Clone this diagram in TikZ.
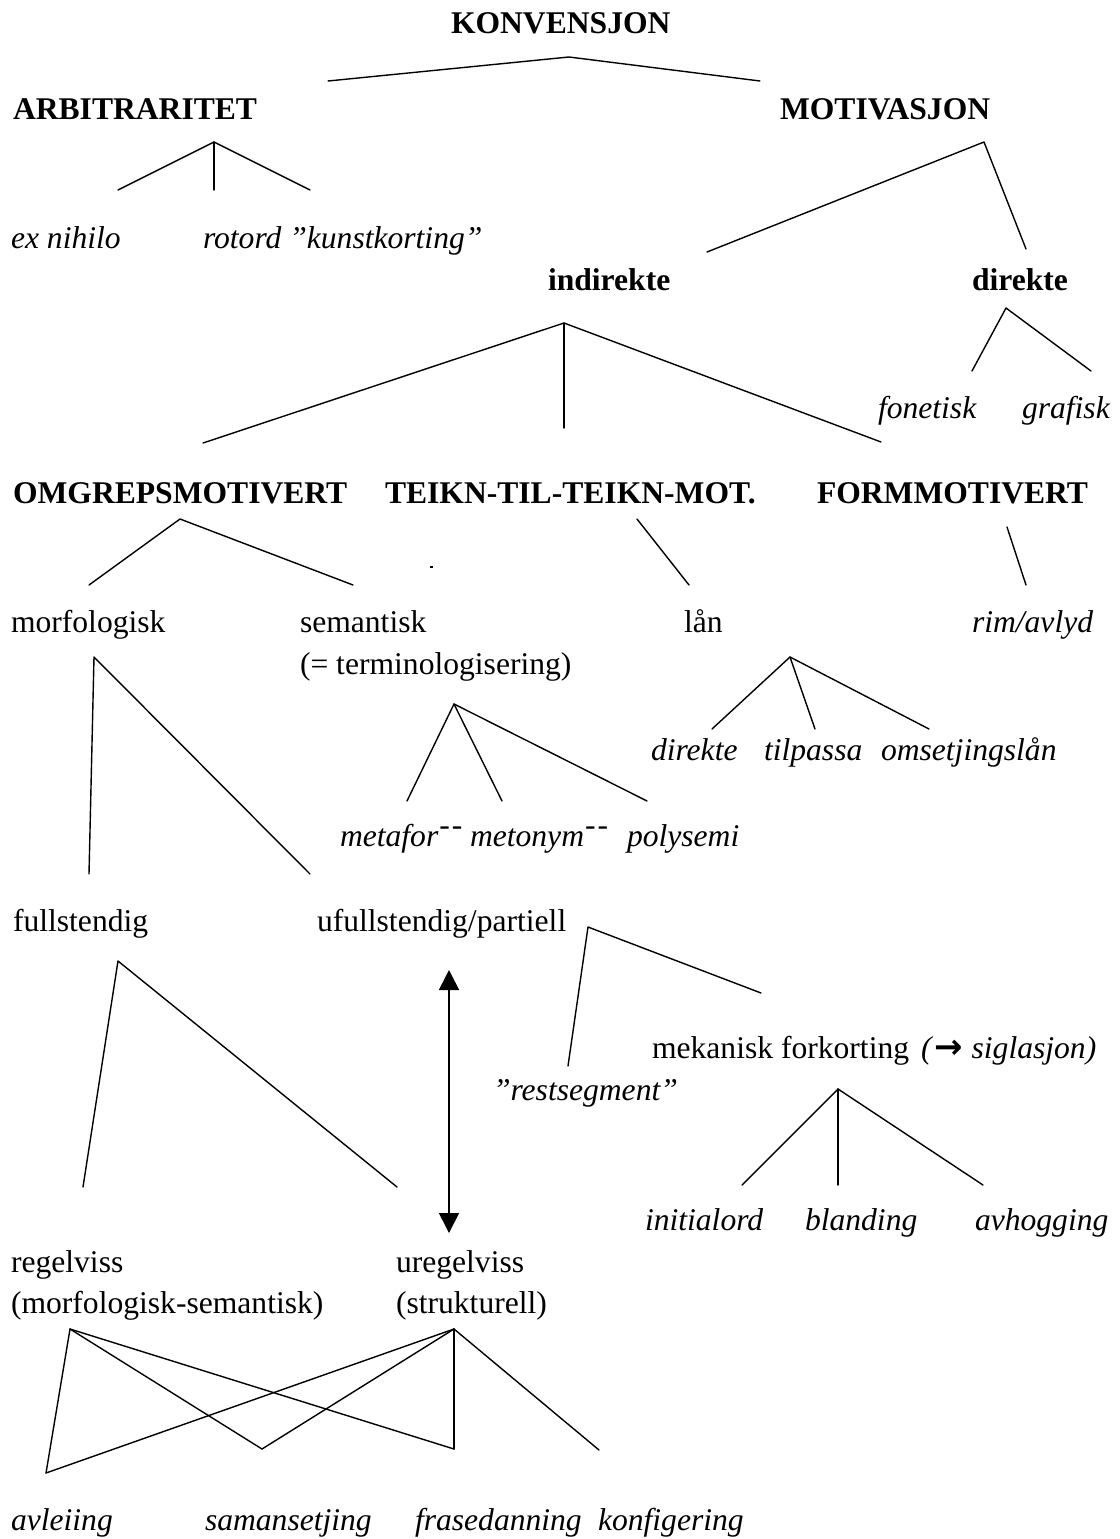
\documentclass[tikz,border=0pt]{standalone}
\usepackage{fontspec}
\setmainfont{Liberation Serif}
\newfontfamily\arrowfont{DejaVu Sans}
\usetikzlibrary{arrows.meta}
% two short raised dashes after a word
\newcommand\raiseddashes{\kern1pt\raisebox{0.33em}{-\kern2pt-}}
\begin{document}
\begin{tikzpicture}[x=1pt,y=-1pt,
  lbl/.style={anchor=base west, inner sep=0pt, outer sep=0pt,
              font=\fontsize{31.6}{38}\selectfont},
  it/.style={lbl, font=\fontsize{31.6}{38}\selectfont\itshape},
  bf/.style={lbl, font=\fontsize{31.6}{38}\selectfont\bfseries},
  branch/.style={line width=1.4pt, line cap=round, line join=round},
]
\useasboundingbox (0,0) rectangle (1119,1539);

% ---------- labels ----------
\node[bf] (konv) at (451,33)  {KONVENSJON};
\node[bf] (arb)  at (13,119)  {ARBITRARITET};
\node[bf] (mot)  at (780,119) {MOTIVASJON};
\node[it] (exn)  at (11,248)  {ex nihilo};
\node[it] (rot)  at (203,248) {rotord ”kunstkorting”};
\node[bf] (ind)  at (548,290) {indirekte};
\node[bf] (dir)  at (972,290) {direkte};
\node[it] (fon)  at (878,418) {fonetisk};
\node[it] (gra)  at (1022,418) {grafisk};
\node[bf] (omg)  at (13,503)  {OMGREPSMOTIVERT};
\node[bf] (tei)  at (385,503) {TEIKN-TIL-TEIKN-MOT.};
\node[bf] (frm)  at (817,503) {FORMMOTIVERT};
\node[lbl] (mor) at (11,632)  {morfologisk};
\node[lbl] (sem) at (300,632) {semantisk};
\node[lbl] (ter) at (300,674) {(= terminologisering)};
\node[lbl] (lan) at (684,632) {lån};
\node[it] (rim)  at (972,632) {rim/avlyd};
\node[it] (ldi)  at (651,760) {direkte};
\node[it] (ltp)  at (764,760) {tilpassa};
\node[it] (los)  at (881,760) {omsetjingslån};
\node[it] (mfo)  at (340,846) {metafor\raiseddashes};
\node[it] (mtn)  at (470,846) {metonym\raiseddashes};
\node[it] (pol)  at (627,846) {polysemi};
\node[lbl] (ful) at (13,931)  {fullstendig};
\node[lbl] (ufu) at (317,931) {ufullstendig/partiell};
\node[lbl] (mek) at (652,1058) {mekanisk forkorting};
\node[lbl] (mkp) at (921,1058) {\textit{(}\kern1pt{\arrowfont\bfseries\fontsize{34}{34}\selectfont →}\kern9pt\textit{siglasjon)}};
\node[it] (res)  at (493,1100) {”restsegment”};
\node[it] (ini)  at (645,1230) {initialord};
\node[it] (bla)  at (805,1230) {blanding};
\node[it] (avh)  at (975,1230) {avhogging};
\node[lbl] (reg) at (11,1272) {regelviss};
\node[lbl] (rgs) at (11,1313) {(morfologisk-semantisk)};
\node[lbl] (ure) at (396,1272) {uregelviss};
\node[lbl] (urs) at (396,1313) {(strukturell)};
\node[it] (avl)  at (11,1530) {avleiing};
\node[it] (sam)  at (205,1530) {samansetjing};
\node[it] (fra)  at (415,1530) {frasedanning};
\node[it] (kon)  at (598,1530) {konfigering};

% ---------- branch points ----------
\coordinate (konvA) at (569,57);   \coordinate (konvL) at (328,81);   \coordinate (konvR) at (760,81);
\coordinate (arbA) at (214,142);   \coordinate (arbL) at (118,190);   \coordinate (arbM) at (214,190);  \coordinate (arbR) at (310,190);
\coordinate (motA) at (984,142);   \coordinate (motL) at (707,252);   \coordinate (motR) at (1026,249);
\coordinate (indA) at (564,323);   \coordinate (indL) at (203,443);   \coordinate (indM) at (564,428);  \coordinate (indR) at (881,442);
\coordinate (dirA) at (1006,308);  \coordinate (dirL) at (972,371);   \coordinate (dirR) at (1091,371);
\coordinate (omgA) at (180,519);   \coordinate (omgL) at (89,585);    \coordinate (omgR) at (353,585);
\coordinate (teiA) at (637,519);   \coordinate (teiB) at (689,585);
\coordinate (frmA) at (1007,527);  \coordinate (frmB) at (1026,585);
\coordinate (morA) at (94,657);    \coordinate (morL) at (89,874);    \coordinate (morR) at (310,874);
\coordinate (terA) at (454,704);   \coordinate (terL) at (407,801);   \coordinate (terM) at (502,801);  \coordinate (terR) at (647,801);
\coordinate (lanA) at (790,657);   \coordinate (lanL) at (712,729);   \coordinate (lanM) at (815,729);  \coordinate (lanR) at (929,729);
\coordinate (fulA) at (118,961);   \coordinate (fulL) at (83,1187);   \coordinate (fulR) at (397,1187);
\coordinate (ufuA) at (588,927);   \coordinate (ufuL) at (568,1066);  \coordinate (ufuR) at (761,993);
\coordinate (mekA) at (838,1089);  \coordinate (mekL) at (742,1185);  \coordinate (mekM) at (838,1185); \coordinate (mekR) at (983,1185);
\coordinate (arrT) at (449,970);   \coordinate (arrB) at (449,1233);
\coordinate (regA) at (70,1329);   \coordinate (ureA) at (454,1329);
\coordinate (avlV) at (46,1473);   \coordinate (samV) at (262,1449);  \coordinate (fraV) at (454,1449); \coordinate (konV) at (599,1450);
\coordinate (spot) at (430,566);

% ---------- branches ----------
\draw[branch] (konvL) -- (konvA) -- (konvR);
\draw[branch] (arbL) -- (arbA) -- (arbR);
\draw[branch] (arbA) -- (arbM);
\draw[branch] (motL) -- (motA) -- (motR);
\draw[branch] (indL) -- (indA) -- (indR);
\draw[branch] (indA) -- (indM);
\draw[branch] (dirL) -- (dirA) -- (dirR);
\draw[branch] (omgL) -- (omgA) -- (omgR);
\draw[branch] (teiA) -- (teiB);
\draw[branch] (frmA) -- (frmB);
\draw[branch] (morL) -- (morA) -- (morR);
\draw[branch] (terL) -- (terA) -- (terR);
\draw[branch] (terA) -- (terM);
\draw[branch] (lanL) -- (lanA) -- (lanR);
\draw[branch] (lanA) -- (lanM);
\draw[branch] (fulL) -- (fulA) -- (fulR);
\draw[branch] (ufuL) -- (ufuA) -- (ufuR);
\draw[branch] (mekL) -- (mekA) -- (mekR);
\draw[branch] (mekA) -- (mekM);
\draw[line width=1.6pt, {Triangle[length=20pt,width=20pt]}-{Triangle[length=20pt,width=20pt]}] (arrT) -- (arrB);

% crossing links at the bottom
\draw[branch] (regA) -- (avlV);
\draw[branch] (regA) -- (samV);
\draw[branch] (regA) -- (fraV);
\draw[branch] (ureA) -- (avlV);
\draw[branch] (ureA) -- (samV);
\draw[branch] (ureA) -- (fraV);
\draw[branch] (ureA) -- (konV);

% stray speck
\fill (spot) rectangle ++(3,2);
\end{tikzpicture}
\end{document}
